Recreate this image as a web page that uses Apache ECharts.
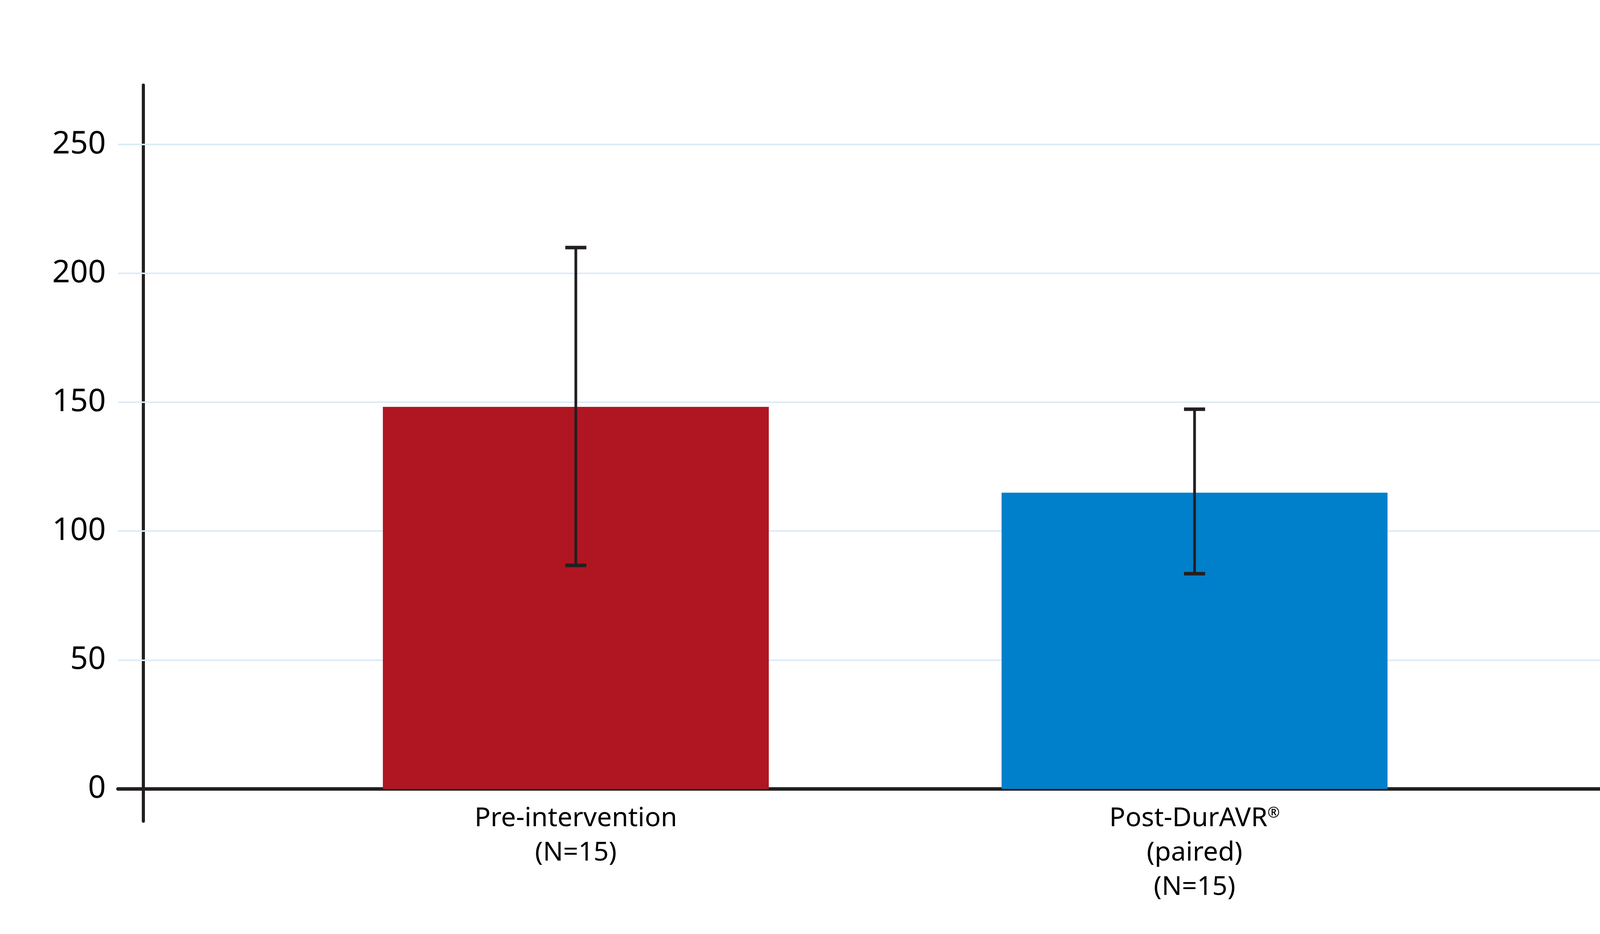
<!DOCTYPE html>
<html>
<head>
<meta charset="utf-8">
<title>Pre vs Post DurAVR</title>
<script src="https://cdn.jsdelivr.net/npm/echarts@6/dist/echarts.min.js"></script>
<style>
  html, body { margin: 0; padding: 0; background: #fff; }
  #chart { width: 4297px; height: 2392px; }
</style>
</head>
<body>
<div id="chart"></div>
<script>
  // data
  const categories = ['Pre-intervention\n(N=15)', 'Post-DurAVR®\n(paired)\n(N=15)'];
  const positions = [1, 2];
  const means = [148.2, 114.9];
  const errLow = [86.7, 83.5];
  const errHigh = [210, 147.3];
  const yTicks = [0, 50, 100, 150, 200, 250];

  const barColors = ['#b01621', '#0080ca'];
  const inkColor = '#231f20';
  const gridColor = '#dcebf7';
  const fontFamily = '"Noto Sans", "Open Sans", sans-serif';

  const chart = echarts.init(document.getElementById('chart'));

  const barData = means.map((v, i) => ({
    value: [positions[i], v],
    itemStyle: { color: barColors[i] }
  }));

  const errData = means.map((v, i) => [positions[i], errLow[i], errHigh[i]]);

  const renderErrorBar = (params, api) => {
    const x = api.value(0);
    const lo = api.coord([x, api.value(1)]);
    const hi = api.coord([x, api.value(2)]);
    const capHalf = 27;
    return {
      type: 'group',
      children: [
        {
          type: 'line',
          shape: { x1: lo[0], y1: lo[1], x2: hi[0], y2: hi[1] },
          style: { stroke: inkColor, lineWidth: 7 }
        },
        {
          type: 'line',
          shape: { x1: hi[0] - capHalf, y1: hi[1], x2: hi[0] + capHalf, y2: hi[1] },
          style: { stroke: inkColor, lineWidth: 9 }
        },
        {
          type: 'line',
          shape: { x1: lo[0] - capHalf, y1: lo[1], x2: lo[0] + capHalf, y2: lo[1] },
          style: { stroke: inkColor, lineWidth: 9 }
        }
      ]
    };
  };

  const option = {
    backgroundColor: '#ffffff',
    animation: false,
    grid: {
      left: 302,
      right: 108,
      top: 218,
      bottom: 289,
      containLabel: false
    },
    xAxis: {
      type: 'value',
      min: 0.26,
      max: 2.714,
      splitLine: { show: false },
      axisTick: { show: false },
      axisLine: {
        show: true,
        onZero: true,
        lineStyle: { color: inkColor, width: 9 }
      },
      axisLabel: {
        customValues: positions,
        // labels sit from the grid bottom, which is below the zero line
        margin: -50,
        color: '#000',
        fontFamily: fontFamily,
        fontSize: 68,
        lineHeight: 88,
        align: 'center',
        formatter: value => {
          const idx = positions.indexOf(value);
          return idx < 0 ? '' : categories[idx].replace('®', '{sup|®}');
        },
        rich: {
          sup: {
            fontFamily: fontFamily,
            fontSize: 38,
            color: '#000',
            padding: [0, 0, 28, 0]
          }
        }
      }
    },
    yAxis: {
      type: 'value',
      min: -12.5,
      max: 273,
      offset: -65,
      splitLine: { show: false },
      axisTick: { show: false },
      axisLine: {
        show: true,
        onZero: false,
        lineStyle: { color: inkColor, width: 8 }
      },
      axisLabel: {
        customValues: yTicks,
        margin: 96,
        color: '#000',
        fontFamily: fontFamily,
        fontSize: 80
      }
    },
    series: [
      {
        // light horizontal guide lines behind the bars
        name: 'grid',
        type: 'line',
        z: 1,
        data: [],
        silent: true,
        markLine: {
          z: 1,
          silent: true,
          symbol: 'none',
          label: { show: false },
          lineStyle: { color: gridColor, width: 4, type: 'solid' },
          data: yTicks.filter(t => t > 0).map(t => ({ yAxis: t }))
        }
      },
      {
        name: 'Mean',
        type: 'bar',
        z: 2,
        barWidth: 988,
        data: barData
      },
      {
        name: 'SD',
        type: 'custom',
        z: 3,
        renderItem: renderErrorBar,
        encode: { x: 0, y: [1, 2] },
        data: errData
      }
    ]
  };

  chart.setOption(option);
</script>
</body>
</html>
